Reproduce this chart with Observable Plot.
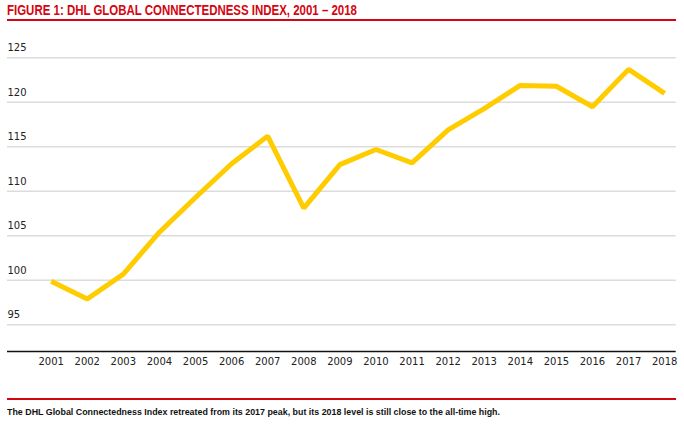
<!DOCTYPE html>
<html>
<head>
<meta charset="utf-8">
<script src="https://cdn.jsdelivr.net/npm/d3@7"></script>
<script src="https://cdn.jsdelivr.net/npm/@observablehq/plot@0.6"></script>
<style>
  html, body { margin: 0; padding: 0; background: #fff; width: 684px; height: 424px; overflow: hidden; }
  #wrap { position: relative; width: 684px; height: 424px; }
  #title {
    position: absolute; left: 7px; top: 0; width: 669px; height: 19px;
    border-bottom: 2.5px solid #D40511;
    font-family: "Liberation Sans", Arial, sans-serif;
    font-weight: bold; font-size: 14px; line-height: 20px; color: #D40511;
    white-space: nowrap;
  }
  #chart { position: absolute; left: 0; top: 24px; }
  #caption {
    position: absolute; left: 7px; top: 398px; width: 669px;
    border-top: 2.5px solid #D40511;
    font-family: "Liberation Sans", Arial, sans-serif;
    font-weight: bold; font-size: 9.5px; line-height: 12px; padding-top: 6px; color: #111;
    white-space: nowrap;
  }
  .fit { display: inline-block; transform-origin: 0 50%; }
</style>
</head>
<body>
<div id="wrap">
  <div id="title"><span class="fit" data-w="350">FIGURE 1: DHL GLOBAL CONNECTEDNESS INDEX, 2001 – 2018</span></div>
  <div id="chart"></div>
  <div id="caption"><span class="fit" data-w="493">The DHL Global Connectedness Index retreated from its 2017 peak, but its 2018 level is still close to the all-time high.</span></div>
</div>
<script>
const years = [2001, 2002, 2003, 2004, 2005, 2006, 2007, 2008, 2009, 2010, 2011, 2012, 2013, 2014, 2015, 2016, 2017, 2018];
const index = [99.9, 97.9, 100.7, 105.4, 109.3, 113.1, 116.2, 108.1, 113.0, 114.7, 113.2, 116.9, 119.3, 121.9, 121.8, 119.5, 123.7, 121.0];
const yTicks = [95, 100, 105, 110, 115, 120, 125];

const data = years.map((y, i) => ({year: y, value: index[i]}));

const chart = Plot.plot({
  width: 684,
  height: 370,
  marginLeft: 7,
  marginRight: 8.3,
  marginTop: 6.6,
  marginBottom: 43,
  style: {fontFamily: "DejaVu Sans, sans-serif", fontSize: "10px", color: "#222", background: "#fff"},
  x: {type: "linear", domain: [1999.79, 2018.32], axis: null},
  y: {domain: [92, 128], axis: null},
  marks: [
    Plot.ruleY(yTicks, {stroke: "#dcdcdc", strokeWidth: 1.5}),
    Plot.text(yTicks, {y: d => d, frameAnchor: "left", text: d => String(d), textAnchor: "start", dy: -10, fill: "#222"}),
    Plot.ruleY([92], {stroke: "#111", strokeWidth: 1.5}),
    Plot.text(years, {x: d => d, frameAnchor: "bottom", text: d => String(d), lineAnchor: "middle", dy: 10, fill: "#222"}),
    Plot.line(data, {x: "year", y: "value", stroke: "#FFCC00", strokeWidth: 5, strokeLinejoin: "miter", strokeLinecap: "butt"})
  ]
});
document.getElementById("chart").appendChild(chart);

document.querySelectorAll(".fit").forEach(el => {
  const w = el.getBoundingClientRect().width;
  const target = +el.dataset.w;
  if (w > 0) el.style.transform = `scaleX(${target / w})`;
});
</script>
</body>
</html>
